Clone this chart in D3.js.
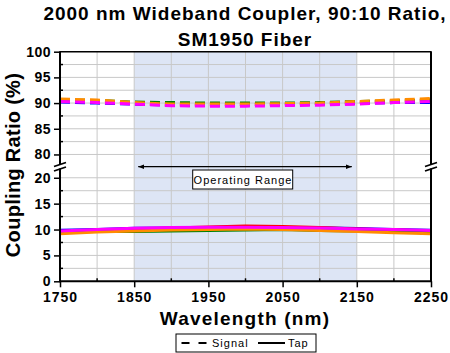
<!DOCTYPE html>
<html>
<head>
<meta charset="utf-8">
<script src="https://cdn.jsdelivr.net/npm/d3@7"></script>
<style>
  body { margin: 0; background: #fff; }
  svg { font-family: Arial, "Liberation Sans", sans-serif; display: block; }
</style>
</head>
<body>
<div id="chart"></div>
<script>
// wavelength samples (nm)
const wavelengths = [1750, 1800, 1850, 1900, 1950, 2000, 2050, 2100, 2150, 2200, 2250];

// signal port (dashed), %
const signalBlue    = [90.2, 90.0, 89.8, 89.6, 89.6, 89.6, 89.7, 89.8, 89.9, 90.1, 90.1];
const signalRed     = [90.4, 90.3, 90.0, 89.6, 89.6, 89.7, 89.8, 89.9, 90.1, 90.4, 90.6];
const signalGreen   = [90.6, 90.5, 90.2, 90.1, 90.0, 90.0, 90.0, 90.1, 90.3, 90.4, 90.6];
const signalOrange  = [90.8, 90.6, 90.1, 89.8, 89.8, 89.8, 89.9, 90.0, 90.3, 90.6, 90.9];
const signalMagenta = [90.3, 90.1, 89.8, 89.5, 89.4, 89.4, 89.5, 89.6, 89.8, 90.1, 90.3];

// tap port (solid), %
const tapBlue    = [9.85, 10.0, 10.25, 10.3, 10.4, 10.5, 10.4, 10.35, 10.2, 10.0, 9.85];
const tapRed     = [9.5, 9.8, 10.0, 10.3, 10.5, 10.7, 10.6, 10.4, 10.1, 9.9, 9.7];
const tapGreen   = [9.55, 9.6, 9.6, 9.7, 9.8, 9.9, 10.0, 9.8, 9.7, 9.6, 9.5];
const tapOrange  = [9.2, 9.5, 9.7, 9.9, 10.0, 10.1, 10.0, 9.8, 9.6, 9.4, 9.2];
const tapMagenta = [9.7, 10.0, 10.25, 10.4, 10.45, 10.45, 10.4, 10.3, 10.1, 10.0, 9.8];

const seriesColors = ['#0000ff', '#ff0000', '#008000', '#ff8c00', '#ff00ff'];
const signalSeries = [signalBlue, signalRed, signalGreen, signalOrange, signalMagenta];
const tapSeries = [tapBlue, tapRed, tapGreen, tapOrange, tapMagenta];

const xTickLabels = [1750, 1850, 1950, 2050, 2150, 2250];
const xMinorTicks = [1800, 1900, 2000, 2100, 2200];
const xGrid = [1800, 1850, 1900, 1950, 2000, 2050, 2100, 2150, 2200];
const upperTickLabels = [80, 85, 90, 95, 100];
const lowerTickLabels = [0, 5, 10, 15, 20];
const upperGrid = [80, 82.5, 85, 87.5, 90, 92.5, 95, 97.5];
const lowerGrid = [2.5, 5, 7.5, 10, 12.5, 15, 17.5, 20];
const upperMinor = [82.5, 87.5, 92.5, 97.5];
const lowerMinor = [2.5, 7.5, 12.5, 17.5];
const operatingRange = [1850, 2150];

const width = 450, height = 353;
const pL = 60, pR = 431, pT = 51.7, pB = 281.3;

const svg = d3.select('#chart').append('svg').attr('width', width).attr('height', height);

const x = d3.scaleLinear().domain([1750, 2250]).range([pL, pR]);
const yUp = d3.scaleLinear().domain([77.5, 100]).range([167.3, pT]);
const yLo = d3.scaleLinear().domain([0, 21.5]).range([pB, 170]);

// shaded operating range
svg.append('rect')
  .attr('x', x(operatingRange[0])).attr('y', pT)
  .attr('width', x(operatingRange[1]) - x(operatingRange[0]))
  .attr('height', pB - pT)
  .attr('fill', '#dde5f5');

// grid
const grid = svg.append('g').attr('stroke', '#c8c8c8').attr('stroke-width', 1);
grid.selectAll('.gx').data(xGrid).enter().append('line')
  .attr('x1', d => x(d)).attr('x2', d => x(d)).attr('y1', pT).attr('y2', pB);
grid.selectAll('.gu').data(upperGrid).enter().append('line')
  .attr('x1', pL).attr('x2', pR).attr('y1', d => yUp(d)).attr('y2', d => yUp(d));
grid.selectAll('.gl').data(lowerGrid).enter().append('line')
  .attr('x1', pL).attr('x2', pR).attr('y1', d => yLo(d)).attr('y2', d => yLo(d));

// data lines
const lineUp = d3.line().x((d, i) => x(wavelengths[i])).y(d => yUp(d));
const lineLo = d3.line().x((d, i) => x(wavelengths[i])).y(d => yLo(d));

svg.append('g').selectAll('path').data(signalSeries).enter().append('path')
  .attr('d', d => lineUp(d))
  .attr('fill', 'none')
  .attr('stroke', (d, i) => seriesColors[i])
  .attr('stroke-width', 3)
  .attr('stroke-dasharray', '10,5');

svg.append('g').selectAll('path').data(tapSeries).enter().append('path')
  .attr('d', d => lineLo(d))
  .attr('fill', 'none')
  .attr('stroke', (d, i) => seriesColors[i])
  .attr('stroke-width', 3);

// operating range arrow + label
const arrowY = 166.7;
const defs = svg.append('defs');
['arrS', 'arrE'].forEach((id, k) => {
  defs.append('marker').attr('id', id)
    .attr('viewBox', '0 0 10 10').attr('refX', k ? 10 : 0).attr('refY', 5)
    .attr('markerWidth', 5).attr('markerHeight', 5).attr('orient', 'auto')
    .append('path').attr('d', k ? 'M0,1L10,5L0,9Z' : 'M10,1L0,5L10,9Z').attr('fill', '#000');
});
svg.append('line')
  .attr('x1', x(operatingRange[0]) + 4).attr('x2', x(operatingRange[1]) - 5)
  .attr('y1', arrowY).attr('y2', arrowY)
  .attr('stroke', '#000').attr('stroke-width', 1.2)
  .attr('marker-start', 'url(#arrS)').attr('marker-end', 'url(#arrE)');
svg.append('rect').attr('x', 192.7).attr('y', 170).attr('width', 100).attr('height', 19)
  .attr('fill', '#fff').attr('stroke', '#000').attr('stroke-width', 1);
svg.append('text').attr('x', 243).attr('y', 184)
  .attr('text-anchor', 'middle').attr('font-size', 11).attr('letter-spacing', 1)
  .text('Operating Range');

// frame
const frame = svg.append('g').attr('stroke', '#000').attr('fill', 'none');
frame.append('line').attr('x1', pL).attr('x2', pR).attr('y1', pT).attr('y2', pT).attr('stroke-width', 1.5);
frame.append('line').attr('x1', pL - 1).attr('x2', pR + 1).attr('y1', pB).attr('y2', pB).attr('stroke-width', 2);
frame.append('line').attr('x1', pL).attr('x2', pL).attr('y1', pT - 0.5).attr('y2', pB).attr('stroke-width', 2);
frame.append('line').attr('x1', pR).attr('x2', pR).attr('y1', pT - 0.5).attr('y2', pB).attr('stroke-width', 2);

// y axes (left side) via d3 axes
function styleAxis(g) {
  g.select('.domain').remove();
  g.selectAll('.tick line').attr('stroke', '#000').attr('stroke-width', 1.5);
  g.selectAll('.tick text')
    .attr('font-size', 14).attr('font-weight', 'bold').attr('fill', '#000')
    .attr('letter-spacing', 0.5)
    .attr('font-family', 'Arial, "Liberation Sans", sans-serif');
}
svg.append('g').attr('transform', `translate(${pL},0)`)
  .call(d3.axisLeft(yUp).tickValues(upperTickLabels).tickSize(6).tickPadding(3))
  .call(styleAxis);
svg.append('g').attr('transform', `translate(${pL},0)`)
  .call(d3.axisLeft(yLo).tickValues(lowerTickLabels).tickSize(6).tickPadding(3))
  .call(styleAxis);
const minorY = svg.append('g').attr('stroke', '#000').attr('stroke-width', 1.5);
minorY.selectAll('.mu').data(upperMinor).enter().append('line')
  .attr('x1', pL).attr('x2', pL + 3).attr('y1', d => yUp(d)).attr('y2', d => yUp(d));
minorY.selectAll('.ml').data(lowerMinor).enter().append('line')
  .attr('x1', pL).attr('x2', pL + 3).attr('y1', d => yLo(d)).attr('y2', d => yLo(d));

// x axis
svg.append('g').attr('transform', `translate(0,${pB})`)
  .call(d3.axisBottom(x).tickValues(xTickLabels).tickFormat(d3.format('d')).tickSize(6).tickPadding(5))
  .call(styleAxis)
  .call(g => g.selectAll('.tick text').attr('letter-spacing', 1));
svg.append('g').attr('stroke', '#000').attr('stroke-width', 1.5)
  .selectAll('line').data(xMinorTicks).enter().append('line')
  .attr('x1', d => x(d)).attr('x2', d => x(d)).attr('y1', pB).attr('y2', pB - 3);

// axis breaks
[pL, pR].forEach(ax => {
  const b = svg.append('g');
  b.append('rect').attr('x', ax - 2).attr('y', 165).attr('width', 4).attr('height', 3.5).attr('fill', '#fff');
  b.append('line').attr('x1', ax - 6).attr('x2', ax + 6).attr('y1', 166.5).attr('y2', 162.5)
    .attr('stroke', '#000').attr('stroke-width', 1.8);
  b.append('line').attr('x1', ax - 6).attr('x2', ax + 6).attr('y1', 171).attr('y2', 167)
    .attr('stroke', '#000').attr('stroke-width', 1.8);
});

// titles
const title = svg.append('text').attr('text-anchor', 'middle')
  .attr('font-size', 19).attr('font-weight', 'bold').attr('letter-spacing', 1).attr('fill', '#000');
title.append('tspan').attr('x', 245).attr('y', 20).text('2000 nm Wideband Coupler, 90:10 Ratio,');
title.append('tspan').attr('x', 245).attr('y', 45.5).text('SM1950 Fiber');

svg.append('text').attr('x', 245).attr('y', 325)
  .attr('text-anchor', 'middle').attr('font-size', 19).attr('font-weight', 'bold')
  .attr('letter-spacing', 1.2).text('Wavelength (nm)');

svg.append('text').attr('transform', 'translate(20,165) rotate(-90)')
  .attr('text-anchor', 'middle').attr('font-size', 20).attr('font-weight', 'bold')
  .attr('letter-spacing', 0.3).text('Coupling Ratio (%)');

// legend
const lg = svg.append('g');
lg.append('rect').attr('x', 176).attr('y', 334).attr('width', 140).attr('height', 18)
  .attr('fill', '#fff').attr('stroke', '#000').attr('stroke-width', 1);
lg.append('line').attr('x1', 181.5).attr('x2', 207).attr('y1', 343).attr('y2', 343)
  .attr('stroke', '#000').attr('stroke-width', 2).attr('stroke-dasharray', '8,9');
lg.append('text').attr('x', 212).attr('y', 347).attr('font-size', 11).attr('letter-spacing', 1).text('Signal');
lg.append('line').attr('x1', 258).attr('x2', 285).attr('y1', 343).attr('y2', 343)
  .attr('stroke', '#000').attr('stroke-width', 2);
lg.append('text').attr('x', 288).attr('y', 347).attr('font-size', 11).attr('letter-spacing', 1).text('Tap');
</script>
</body>
</html>
